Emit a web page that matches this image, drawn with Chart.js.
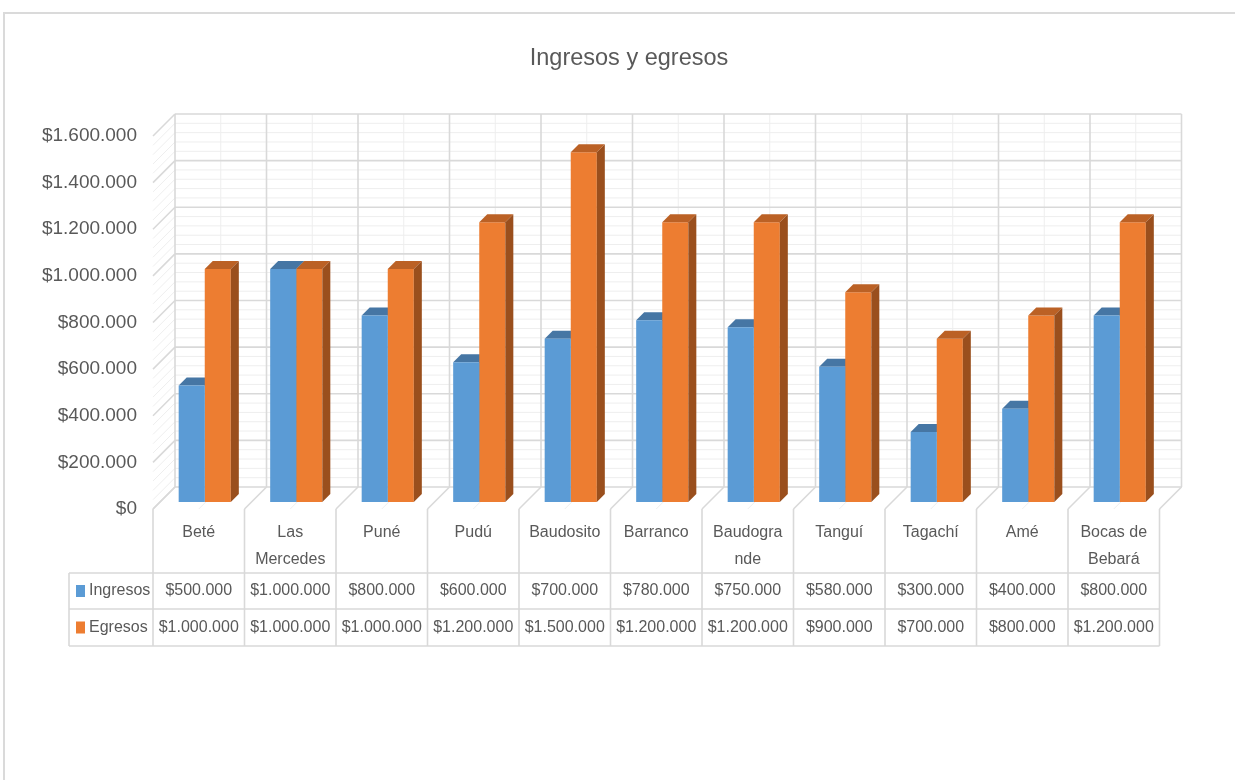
<!DOCTYPE html>
<html>
<head>
<meta charset="utf-8">
<script src="https://cdn.jsdelivr.net/npm/chart.js@4.4.1/dist/chart.umd.min.js"></script>
<style>
  html, body { margin: 0; padding: 0; background: #fff; overflow: hidden; }
  #frame { position: absolute; left: 3px; top: 12px; width: 1400px; height: 900px; border: 2px solid #dadada; }
  #wrap { position: absolute; left: 0; top: 0; width: 1235px; height: 780px; }
</style>
</head>
<body>
<div id="frame"></div>
<div id="wrap"><canvas id="chart" width="1235" height="780"></canvas></div>
<script>
// Chart data
const categories = ['Beté', ['Las', 'Mercedes'], 'Puné', 'Pudú', 'Baudosito', 'Barranco',
    ['Baudogra', 'nde'], 'Tanguí', 'Tagachí', 'Amé', ['Bocas de', 'Bebará']];
const ingresos = [500000, 1000000, 800000, 600000, 700000, 780000, 750000, 580000, 300000, 400000, 800000];
const egresos = [1000000, 1000000, 1000000, 1200000, 1500000, 1200000, 1200000, 900000, 700000, 800000, 1200000];
const seriesNames = ['Ingresos', 'Egresos'];
const yMax = 1600000;
const yStep = 200000;
const yMinorStep = 40000;

const FONT = "'Liberation Sans', Arial, sans-serif";
const TEXT = '#595959';
const GRID_MAJOR = '#d9d9d9';
const GRID_MINOR = '#eeeeee';

// offsets from the bar plane to the front edge and back wall (fake 3D)
const FRONT = { dx: -6, dy: 7 };
const BACK = { dx: 16, dy: -15 };
const DEPTH = 8;
const faceColors = [
    { top: '#4676a4', side: '#3b6591' },
    { top: '#bb6125', side: '#9a4f1d' },
];

function money(v) {
    return '$' + String(v).replace(/\B(?=(\d{3})+(?!\d))/g, '.');
}

function line(ctx, x1, y1, x2, y2) {
    ctx.beginPath();
    ctx.moveTo(x1, y1);
    ctx.lineTo(x2, y2);
    ctx.stroke();
}

function drawFaces(chart, dsIndex) {
    const ctx = chart.ctx;
    const meta = chart.getDatasetMeta(dsIndex);
    const c = faceColors[dsIndex];
    meta.data.forEach(bar => {
        const { x, y, width, base } = bar.getProps(['x', 'y', 'width', 'base'], true);
        const l = x - width / 2, r = x + width / 2;
        // top face
        ctx.fillStyle = c.top;
        ctx.beginPath();
        ctx.moveTo(l, y);
        ctx.lineTo(r, y);
        ctx.lineTo(r + DEPTH, y - DEPTH);
        ctx.lineTo(l + DEPTH, y - DEPTH);
        ctx.closePath();
        ctx.fill();
        // side face
        ctx.fillStyle = c.side;
        ctx.beginPath();
        ctx.moveTo(r, y);
        ctx.lineTo(r + DEPTH, y - DEPTH);
        ctx.lineTo(r + DEPTH, base - DEPTH);
        ctx.lineTo(r, base);
        ctx.closePath();
        ctx.fill();
    });
}

const walls3d = {
    id: 'walls3d',
    beforeDatasetsDraw(chart) {
        const { ctx, chartArea: a, scales: { y } } = chart;
        const n = categories.length;
        const catW = (a.right - a.left) / n;
        const y0 = y.getPixelForValue(0);
        const yTop = y.getPixelForValue(yMax);
        ctx.save();
        ctx.lineCap = 'butt';
        for (const pass of ['minor', 'major']) {
            const major = pass === 'major';
            ctx.strokeStyle = major ? GRID_MAJOR : GRID_MINOR;
            ctx.lineWidth = major ? 1.6 : 1;
            // horizontal lines on back wall and left wall
            for (let v = 0; v <= yMax; v += yMinorStep) {
                if ((v % yStep === 0) !== major) continue;
                const yy = y.getPixelForValue(v);
                line(ctx, a.left + BACK.dx, yy + BACK.dy, a.right + BACK.dx, yy + BACK.dy);
                line(ctx, a.left + FRONT.dx, yy + FRONT.dy, a.left + BACK.dx, yy + BACK.dy);
            }
            // verticals on back wall and floor diagonals
            for (let i = 0; i <= n; i += 0.5) {
                if ((i % 1 === 0) !== major) continue;
                const xx = a.left + i * catW;
                line(ctx, xx + BACK.dx, yTop + BACK.dy, xx + BACK.dx, y0 + BACK.dy);
                line(ctx, xx + FRONT.dx, y0 + FRONT.dy, xx + BACK.dx, y0 + BACK.dy);
            }
        }
        ctx.restore();
        ctx.save();
        drawFaces(chart, 0);
        ctx.restore();
    },
    afterDatasetsDraw(chart) {
        chart.ctx.save();
        drawFaces(chart, 1);
        chart.ctx.restore();
    },
    afterDraw(chart) {
        const { ctx, chartArea: a, scales: { y } } = chart;
        const n = categories.length;
        const catW = (a.right - a.left) / n;
        const left = a.left + FRONT.dx;
        const right = a.right + FRONT.dx;
        const headTop = y.getPixelForValue(0) + FRONT.dy;
        const rows = [headTop + 64, headTop + 100, headTop + 137];
        const legendLeft = 69;
        ctx.save();
        // title
        ctx.fillStyle = TEXT;
        ctx.font = '23.5px ' + FONT;
        ctx.textAlign = 'center';
        ctx.textBaseline = 'middle';
        ctx.fillText('Ingresos y egresos', 629, 59);

        // table grid
        ctx.strokeStyle = GRID_MAJOR;
        ctx.lineWidth = 1.6;
        for (let i = 0; i <= n; i++) {
            const xx = left + i * catW;
            line(ctx, xx, headTop, xx, rows[2]);
        }
        line(ctx, legendLeft, rows[0], legendLeft, rows[2]);
        rows.forEach(r => line(ctx, legendLeft, r, right, r));

        // header labels
        ctx.font = '16px ' + FONT;
        ctx.fillStyle = TEXT;
        categories.forEach((c, i) => {
            const cx = left + (i + 0.5) * catW;
            const lines = Array.isArray(c) ? c : [c];
            lines.forEach((t, k) => ctx.fillText(t, cx, headTop + 24 + k * 27));
        });

        // value rows with legend keys
        [ingresos, egresos].forEach((vals, s) => {
            const cy = (rows[s] + rows[s + 1]) / 2;
            ctx.fillStyle = chart.data.datasets[s].backgroundColor;
            ctx.fillRect(legendLeft + 7, cy - 6, 9, 12);
            ctx.fillStyle = TEXT;
            ctx.textAlign = 'left';
            ctx.fillText(seriesNames[s], legendLeft + 20, cy);
            ctx.textAlign = 'center';
            vals.forEach((v, i) => ctx.fillText(money(v), left + (i + 0.5) * catW, cy));
        });
        ctx.restore();
    }
};

new Chart(document.getElementById('chart'), {
    type: 'bar',
    data: {
        labels: categories,
        datasets: [
            { label: seriesNames[0], data: ingresos, backgroundColor: '#5b9bd5' },
            { label: seriesNames[1], data: egresos, backgroundColor: '#ed7d31' },
        ],
    },
    options: {
        responsive: false,
        animation: false,
        devicePixelRatio: 1,
        layout: { padding: { left: 0, top: 129, right: 69.5, bottom: 278 } },
        datasets: { bar: { categoryPercentage: 0.57, barPercentage: 1 } },
        plugins: {
            legend: { display: false },
            title: { display: false },
            tooltip: { enabled: false },
        },
        scales: {
            x: { display: false },
            y: {
                min: 0,
                max: yMax,
                afterFit(scale) { scale.width = 159; },
                grid: { display: false, drawTicks: false },
                border: { display: false },
                ticks: {
                    stepSize: yStep,
                    padding: 22,
                    labelOffset: 7,
                    color: TEXT,
                    font: { family: FONT, size: 19 },
                    callback: v => money(v),
                },
            },
        },
    },
    plugins: [walls3d],
});
</script>
</body>
</html>
